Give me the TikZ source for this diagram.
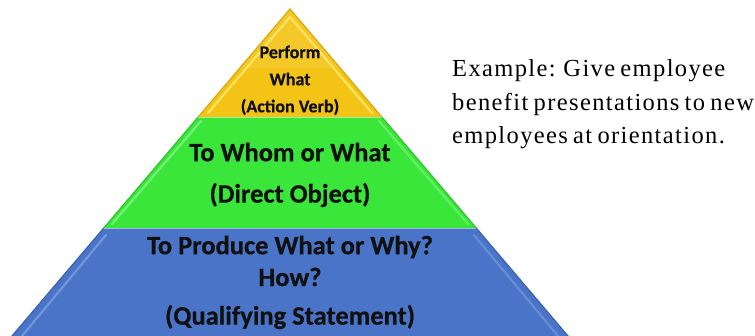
\documentclass[tikz,border=0pt]{standalone}
\usepackage{fontspec}
\setmainfont{Liberation Serif}
\newfontfamily\pyrfont[FakeBold=0.6]{Carlito}
\newfontfamily\exfont[LetterSpace=5.6,WordSpace=0.7]{Liberation Serif}
\definecolor{ylw}{HTML}{F3C416}
\definecolor{ylwdark}{HTML}{D9A90A}
\definecolor{ylwlight}{HTML}{FFE463}
\definecolor{grn}{HTML}{3BE63B}
\definecolor{grndark}{HTML}{2CC42C}
\definecolor{grnlight}{HTML}{8EF78E}
\definecolor{blu}{HTML}{4A74C8}
\definecolor{bludark}{HTML}{3A62B0}
\definecolor{blulight}{HTML}{7C9EE0}
\definecolor{txt}{HTML}{101010}
\tikzset{
  small/.style={font=\pyrfont\bfseries\fontsize{18}{18}\selectfont, text=txt, inner sep=0pt},
  big/.style={font=\pyrfont\bfseries\fontsize{26.5}{26.5}\selectfont, text=txt, inner sep=0pt},
  ex/.style={font=\exfont\fontsize{24.5}{24.5}\selectfont, text=black, inner sep=0pt, anchor=base west},
  bevel/.style={line width=2.2pt, line cap=round}
}
\begin{document}
\begin{tikzpicture}[x=1pt,y=-1pt]
\useasboundingbox (0,0) rectangle (755,336);
\fill[white] (0,0) rectangle (755,336);
\begin{scope}
\clip (0,0) rectangle (755,336);
% layers
\fill[blu] (103.8,228) -- (476.2,228) -- (571.4,340) -- (8.6,340) -- cycle;
\fill[grn] (198.2,117) -- (381.8,117) -- (476.2,228) -- (103.8,228) -- cycle;
\fill[ylw] (290,9) -- (381.8,117) -- (198.2,117) -- cycle;
\fill[white,opacity=0.08] (290,9) -- (340,68) -- (240,68) -- cycle;
% outer darker edges
\draw[ylwdark,line width=1.2pt] (198.2,117) -- (290,9) -- (381.8,117);
\draw[grndark,line width=1.2pt] (103.8,228) -- (198.2,117);
\draw[grndark,line width=1.2pt] (381.8,117) -- (476.2,228);
\draw[bludark,line width=1.2pt] (8.6,340) -- (103.8,228);
\draw[bludark,line width=1.2pt] (476.2,228) -- (571.4,340);
% bevel highlights
\draw[ylwlight,bevel] (208,113) -- (290,17) -- (372,113);
\draw[grnlight,bevel,opacity=0.7] (112,224) -- (201,121);
\draw[grnlight,bevel,opacity=0.5] (379,121) -- (468,224);
\draw[blulight,bevel,opacity=0.8] (22,336) -- (106,235);
\draw[blulight,bevel,opacity=0.6] (474,235) -- (558,336);
% layer separators
\draw[white,opacity=0.5,line width=0.6pt] (198.2,117) -- (381.8,117);
\draw[white,opacity=0.5,line width=0.6pt] (103.8,228) -- (476.2,228);
\end{scope}
% yellow text
\node[small] (p1) at (290,52) {Perform};
\node[small] (p2) at (290,79) {What};
\node[small] (p3) at (290,107) {(Action Verb)};
% green text
\node[big] (g1) at (290,152) {To Whom or What};
\node[big] (g2) at (290,195) {(Direct Object)};
% blue text
\node[big] (b1) at (290,247) {To Produce What or Why?};
\node[big] (b2) at (290,277) {How?};
\node[big] (b3) at (290,317) {(Qualifying Statement)};
% example text
\node[ex] (e1) at (452,77) {Example: Give employee};
\node[ex] (e2) at (452,110.5) {benefit presentations to new};
\node[ex] (e3) at (452,144) {employees at orientation.};
\end{tikzpicture}
\end{document}
